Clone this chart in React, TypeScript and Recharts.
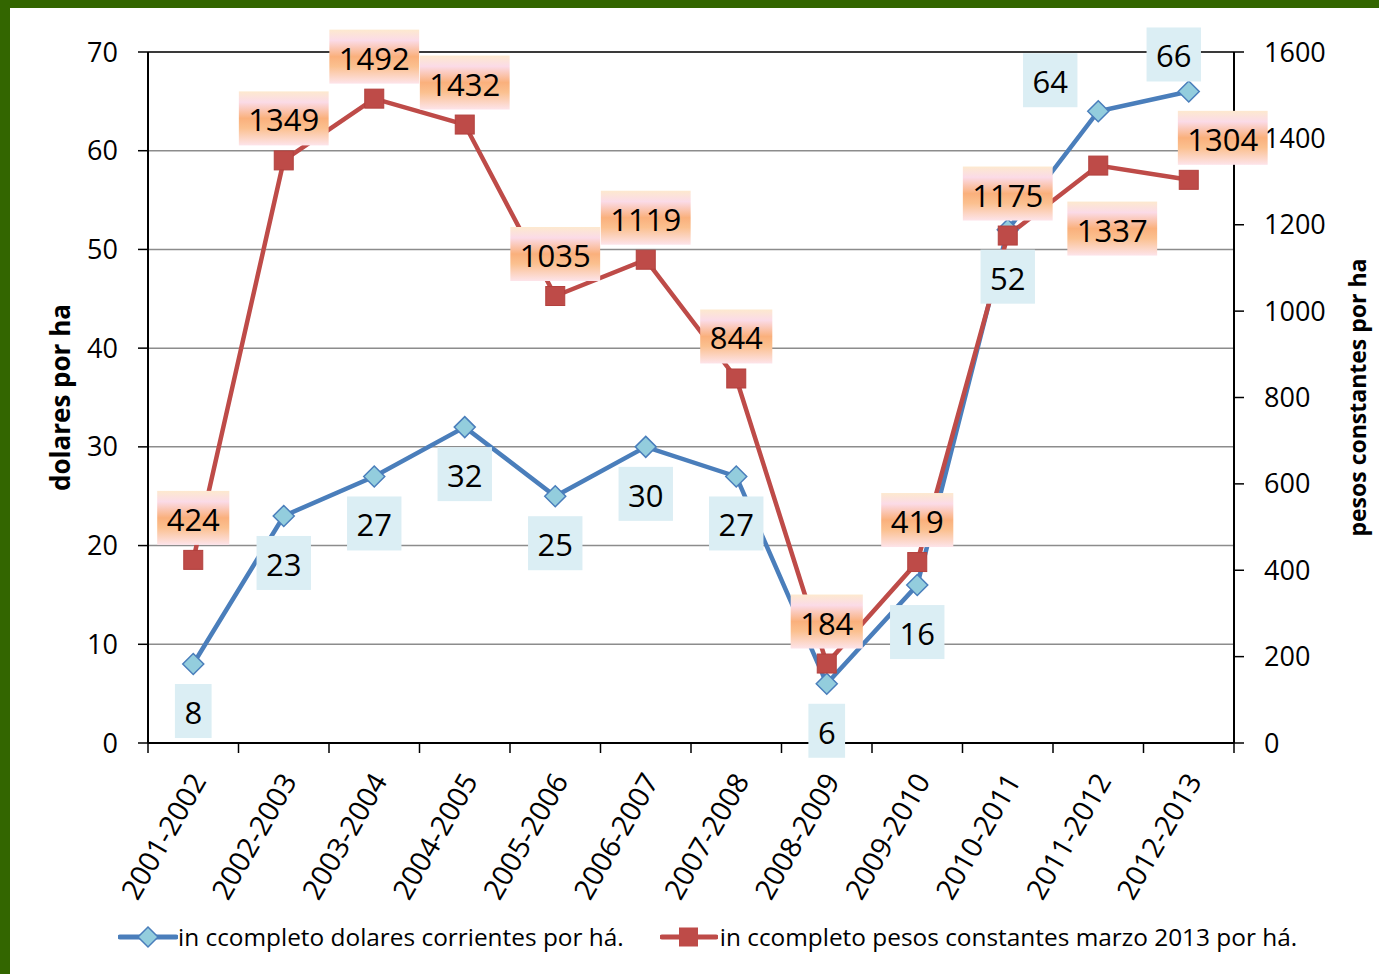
import {
  LineChart,
  Line,
  XAxis,
  YAxis,
  CartesianGrid,
  ReferenceLine,
  LabelList,
} from "recharts";

const categories = [
  "2001-2002",
  "2002-2003",
  "2003-2004",
  "2004-2005",
  "2005-2006",
  "2006-2007",
  "2007-2008",
  "2008-2009",
  "2009-2010",
  "2010-2011",
  "2011-2012",
  "2012-2013",
];
const dolaresPorHa = [8, 23, 27, 32, 25, 30, 27, 6, 16, 52, 64, 66];
const pesosPorHa = [424, 1349, 1492, 1432, 1035, 1119, 844, 184, 419, 1175, 1337, 1304];
const leftTicks = [0, 10, 20, 30, 40, 50, 60, 70];
const rightTicks = [0, 200, 400, 600, 800, 1000, 1200, 1400, 1600];

const BLUE_LABEL = "in ccompleto dolares corrientes por há.";
const RED_LABEL = "in ccompleto pesos constantes marzo 2013 por há.";

const FONT = "'Open Sans', 'DejaVu Sans', sans-serif";
const BLUE = "#4a7ebb";
const BLUE_FILL = "#93cddd";
const RED = "#be4b48";
const W = 1379;
const H = 974;
const PLOT_LEFT = 148;
const PLOT_RIGHT = 1234;
const BAND = (PLOT_RIGHT - PLOT_LEFT) / categories.length;

// label nudges (dx, dy from the point), a few were moved by hand in the original
const blueOffset = (i: number): [number, number] =>
  i === 10 ? [-48, -31] : i === 11 ? [-15, -37] : [0, 47];
const redOffset = (i: number): [number, number] =>
  i === 10 ? [14, 63] : i === 11 ? [34, -42] : [0, -42];

const data = categories.map((name, i) => ({
  name,
  usd: dolaresPorHa[i],
  pesos: pesosPorHa[i],
}));

function boxLabel(kind: "blue" | "red") {
  return (props: any) => {
    const { x, y, value, index } = props;
    if (x == null || y == null) return null;
    const [dx, dy] = kind === "blue" ? blueOffset(index) : redOffset(index);
    const text = String(value);
    const w = text.length * 17.7 + 19;
    const h = 54;
    const cx = x + dx;
    const cy = y + dy;
    const gid = `redgrad-${index}`;
    return (
      <g key={`${kind}-${index}`}>
        {kind === "red" && (
          <defs>
            <linearGradient id={gid} x1="0" y1="0" x2="0" y2="1">
              <stop offset="0%" stopColor="#fde9cf" />
              <stop offset="20%" stopColor="#fbdbe7" />
              <stop offset="50%" stopColor="#fab07c" />
              <stop offset="68%" stopColor="#fbc08f" />
              <stop offset="100%" stopColor="#fde4ea" />
            </linearGradient>
          </defs>
        )}
        <rect
          x={cx - w / 2}
          y={cy - h / 2}
          width={w}
          height={h}
          fill={kind === "blue" ? "#dbeef4" : `url(#${gid})`}
        />
        <text
          x={cx}
          y={cy + 1}
          textAnchor="middle"
          dominantBaseline="central"
          fontFamily={FONT}
          fontSize={31}
          fill="#000"
        >
          {text}
        </text>
      </g>
    );
  };
}

const Diamond = (props: any) => {
  const { cx, cy, index } = props;
  if (cx == null || cy == null) return <g key={`d-${index}`} />;
  const r = 10.5;
  return (
    <path
      key={`d-${index}`}
      d={`M${cx},${cy - r} L${cx + r},${cy} L${cx},${cy + r} L${cx - r},${cy} Z`}
      fill={BLUE_FILL}
      stroke={BLUE}
      strokeWidth={1.5}
    />
  );
};

const Square = (props: any) => {
  const { cx, cy, index } = props;
  if (cx == null || cy == null) return <g key={`s-${index}`} />;
  const s = 19;
  return (
    <rect
      key={`s-${index}`}
      x={cx - s / 2}
      y={cy - s / 2}
      width={s}
      height={s}
      fill={RED}
      stroke="#b3413e"
      strokeWidth={1}
    />
  );
};

const CategoryTick = (props: any) => {
  const { x, y, payload, index } = props;
  const last = index === categories.length - 1;
  return (
    <g>
      <line x1={x - BAND / 2} y1={y} x2={x - BAND / 2} y2={y + 10} stroke="#000" strokeWidth={1.5} />
      {last && (
        <line x1={x + BAND / 2} y1={y} x2={x + BAND / 2} y2={y + 10} stroke="#000" strokeWidth={1.5} />
      )}
      <text
        transform={`translate(${x + 14},${y + 38}) rotate(-60)`}
        textAnchor="end"
        fontFamily={FONT}
        fontSize={28.5}
        fill="#000"
      >
        {payload.value}
      </text>
    </g>
  );
};

const leftTitle = (props: any) => {
  const vb = props.viewBox;
  const x = vb.x + 20;
  const y = vb.y + vb.height / 2;
  return (
    <text
      x={x}
      y={y}
      transform={`rotate(-90, ${x}, ${y})`}
      textAnchor="middle"
      dominantBaseline="central"
      fontFamily={FONT}
      fontWeight="bold"
      fontSize={26}
      fill="#000"
    >
      dolares por ha
    </text>
  );
};

const rightTitle = (props: any) => {
  const vb = props.viewBox;
  const x = vb.x + 123;
  const y = vb.y + vb.height / 2;
  return (
    <text
      x={x}
      y={y}
      transform={`rotate(-90, ${x}, ${y})`}
      textAnchor="middle"
      dominantBaseline="central"
      fontFamily={FONT}
      fontWeight="bold"
      fontSize={23}
      fill="#000"
    >
      pesos constantes por ha
    </text>
  );
};

function LegendRow() {
  return (
    <div
      style={{
        position: "absolute",
        top: 920,
        left: 118,
        display: "flex",
        alignItems: "center",
        fontFamily: FONT,
        fontSize: 24.4,
        color: "#000",
        whiteSpace: "nowrap",
      }}
    >
      <svg width={60} height={24}>
        <line x1={2} y1={12} x2={58} y2={12} stroke={BLUE} strokeWidth={5} strokeLinecap="round" />
        <path d="M30,2 L40,12 L30,22 L20,12 Z" fill={BLUE_FILL} stroke={BLUE} strokeWidth={1.5} />
      </svg>
      <span>{BLUE_LABEL}</span>
      <svg width={58} height={24} style={{ marginLeft: 36, marginRight: 2 }}>
        <line x1={2} y1={12} x2={56} y2={12} stroke={RED} strokeWidth={5} strokeLinecap="round" />
        <rect x={19} y={2.5} width={19} height={19} fill={RED} />
      </svg>
      <span>{RED_LABEL}</span>
    </div>
  );
}

export default function App() {
  return (
    <div
      style={{
        position: "absolute",
        left: 0,
        top: 0,
        width: W,
        height: H,
        background: "#fff",
        overflow: "hidden",
      }}
    >
      <div style={{ position: "absolute", left: 0, top: 0, width: W, height: 8, background: "#336600" }} />
      <div style={{ position: "absolute", left: 0, top: 0, width: 10, height: H, background: "#336600" }} />
      <div style={{ position: "absolute", left: 0, top: 0 }}>
        <LineChart
          width={W}
          height={H}
          data={data}
          margin={{ top: 52, right: 5, bottom: 61, left: 40 }}
        >
          <CartesianGrid
            yAxisId="left"
            vertical={false}
            stroke="#8c8c8c"
            strokeWidth={1.5}
          />
          <ReferenceLine yAxisId="left" y={70} stroke="#3a3a3a" strokeWidth={2} />
          <XAxis
            dataKey="name"
            interval={0}
            padding={{ left: BAND / 2, right: BAND / 2 }}
            tickLine={false}
            tickSize={0}
            tickMargin={0}
            height={170}
            axisLine={{ stroke: "#000", strokeWidth: 2 }}
            tick={<CategoryTick />}
          />
          <YAxis
            yAxisId="left"
            width={108}
            domain={[0, 70]}
            ticks={leftTicks}
            interval={0}
            tickSize={10}
            tickMargin={20}
            axisLine={{ stroke: "#000", strokeWidth: 2 }}
            tickLine={{ stroke: "#000", strokeWidth: 1.5 }}
            tick={{ fontSize: 27, fill: "#000", fontFamily: FONT }}
            label={leftTitle}
          />
          <YAxis
            yAxisId="right"
            orientation="right"
            width={140}
            domain={[0, 1600]}
            ticks={rightTicks}
            interval={0}
            tickSize={10}
            tickMargin={20}
            axisLine={{ stroke: "#000", strokeWidth: 2 }}
            tickLine={{ stroke: "#000", strokeWidth: 1.5 }}
            tick={{ fontSize: 27, fill: "#000", fontFamily: FONT }}
            label={rightTitle}
          />
          <Line
            yAxisId="left"
            dataKey="usd"
            stroke={BLUE}
            strokeWidth={4.5}
            dot={Diamond}
            activeDot={false}
            isAnimationActive={false}
          />
          <Line
            yAxisId="right"
            dataKey="pesos"
            stroke={RED}
            strokeWidth={4.5}
            dot={Square}
            activeDot={false}
            isAnimationActive={false}
          />
          {/* label-only series so the boxes sit above both lines */}
          <Line
            yAxisId="left"
            dataKey="usd"
            stroke="none"
            dot={false}
            activeDot={false}
            legendType="none"
            isAnimationActive={false}
          >
            <LabelList dataKey="usd" content={boxLabel("blue")} />
          </Line>
          <Line
            yAxisId="right"
            dataKey="pesos"
            stroke="none"
            dot={false}
            activeDot={false}
            legendType="none"
            isAnimationActive={false}
          >
            <LabelList dataKey="pesos" content={boxLabel("red")} />
          </Line>
        </LineChart>
      </div>
      <LegendRow />
    </div>
  );
}
